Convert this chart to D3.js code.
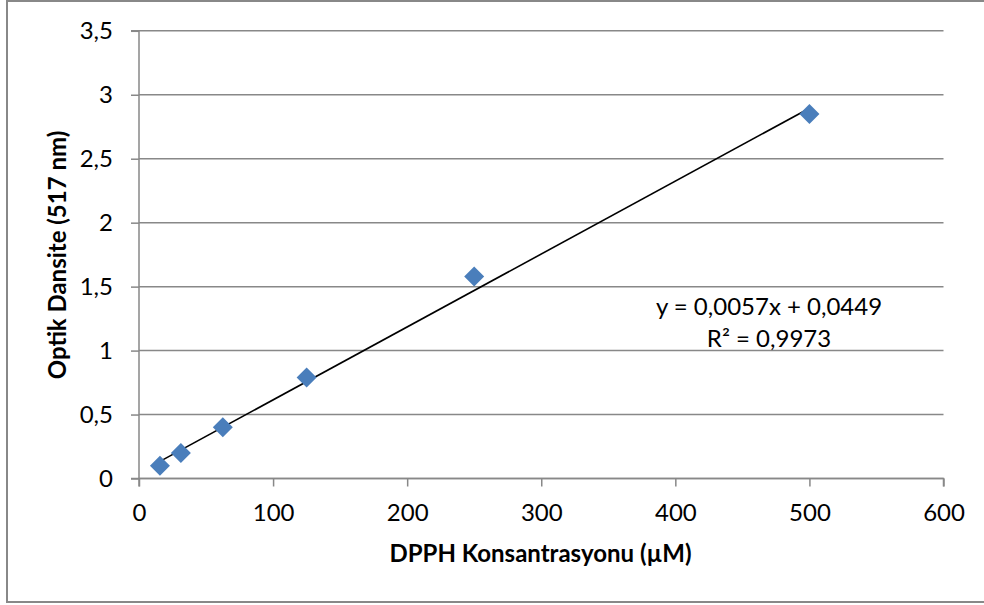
<!DOCTYPE html>
<html>
<head>
<meta charset="utf-8">
<script src="https://cdn.jsdelivr.net/npm/d3@7"></script>
<style>
  html, body { margin: 0; padding: 0; background: #fff; }
  svg { display: block; }
  text { font-family: Lato, "Open Sans", sans-serif; fill: #000; }
</style>
</head>
<body>
<svg id="chart" width="984" height="605"></svg>
<script>
// DPPH calibration data: concentration (µM) vs optical density at 517 nm
const concentrations = [15.625, 31.25, 62.5, 125, 250, 500];
const absorbance = [0.10, 0.20, 0.40, 0.79, 1.58, 2.85];
const xTicks = [0, 100, 200, 300, 400, 500, 600];
const yTicks = [0, 0.5, 1, 1.5, 2, 2.5, 3, 3.5];
// Linear fit y = slope * x + intercept
const fitSlope = 0.0057;
const fitIntercept = 0.0449;
const fitLabels = ["y = 0,0057x + 0,0449", "R² = 0,9973"];
const xTitle = "DPPH Konsantrasyonu (µM)";
const yTitle = "Optik Dansite (517 nm)";

const svg = d3.select("#chart");
const plot = { left: 139, right: 943.5, top: 30.8, bottom: 478.5 };
const gridColor = "#888888";
const fontSize = 24;
const fmt = v => String(v).replace(".", ",");

const x = d3.scaleLinear().domain([0, 600]).range([plot.left, plot.right]);
const y = d3.scaleLinear().domain([0, 3.5]).range([plot.bottom, plot.top]);

// outer chart frame
svg.append("rect")
  .attr("x", 7).attr("y", 1).attr("width", 1000).attr("height", 601)
  .attr("fill", "none").attr("stroke", gridColor).attr("stroke-width", 2);

// horizontal gridlines
svg.append("g").selectAll("line").data(yTicks).join("line")
  .attr("x1", plot.left).attr("x2", plot.right)
  .attr("y1", d => y(d)).attr("y2", d => y(d))
  .attr("stroke", gridColor).attr("stroke-width", 1.5);

// y axis
const yAxis = svg.append("g").attr("transform", `translate(${plot.left},0)`)
  .call(d3.axisLeft(y).tickValues(yTicks).tickFormat(fmt).tickSize(8).tickPadding(18));
// x axis
const xAxis = svg.append("g").attr("transform", `translate(0,${plot.bottom})`)
  .call(d3.axisBottom(x).tickValues(xTicks).tickFormat(fmt).tickSize(8).tickPadding(17));

[yAxis, xAxis].forEach(g => {
  g.select(".domain").attr("stroke", gridColor).attr("stroke-width", 1.5);
  g.selectAll(".tick line").attr("stroke", gridColor).attr("stroke-width", 1.5);
  g.selectAll(".tick text").attr("font-family", "Lato, sans-serif")
    .attr("font-size", fontSize).attr("fill", "#000");
});
yAxis.select(".domain").attr("d", `M-8,${plot.bottom}H0V${plot.top}H-8`);
xAxis.select(".domain").attr("d", `M${plot.left},8V0H${plot.right}V8`);

// trend line across the measured range
const xMin = d3.min(concentrations), xMax = d3.max(concentrations);
svg.append("line")
  .attr("x1", x(xMin)).attr("y1", y(fitSlope * xMin + fitIntercept))
  .attr("x2", x(xMax)).attr("y2", y(fitSlope * xMax + fitIntercept))
  .attr("stroke", "#000").attr("stroke-width", 1.6);

// diamond markers
const diamond = d3.symbol().type(d3.symbolSquare).size(200);
svg.append("g").selectAll("path").data(concentrations).join("path")
  .attr("d", diamond)
  .attr("transform", (d, i) => `translate(${x(d)},${y(absorbance[i])}) rotate(45)`)
  .attr("fill", "#4a7ebb");

// fit equation label
svg.append("g").selectAll("text").data(fitLabels).join("text")
  .attr("x", 769).attr("y", (d, i) => 315 + i * 31.7)
  .attr("text-anchor", "middle").attr("font-size", fontSize)
  .text(d => d);

// axis titles
svg.append("text")
  .attr("x", 540.5).attr("y", 562)
  .attr("text-anchor", "middle").attr("font-size", fontSize).attr("font-weight", "bold")
  .text(xTitle);
svg.append("text")
  .attr("transform", "translate(66,255) rotate(-90)")
  .attr("text-anchor", "middle").attr("font-size", fontSize).attr("font-weight", "bold")
  .text(yTitle);
</script>
</body>
</html>
